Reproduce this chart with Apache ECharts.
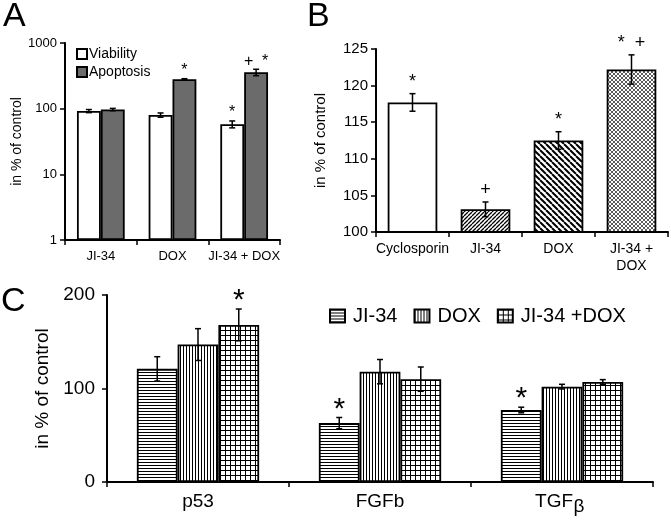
<!DOCTYPE html>
<html>
<head>
<meta charset="utf-8">
<script src="https://cdn.jsdelivr.net/npm/echarts@6/dist/echarts.min.js"></script>
<style>
    html, body {margin: 0; padding: 0; background: #fff;}
    #graph {width: 671px; height: 525px;}
</style>
</head>
<body>
<div id="graph"></div>
<script>
// A: viability / apoptosis (log scale)
var aCats = ['JI-34', 'DOX', 'JI-34 + DOX'];
var aViability = [92, 80, 58];
var aViabilityErr = [5, 6, 7];
var aApoptosis = [97, 280, 358];
var aApoptosisErr = [4, 6, 40];
var aViabilityMarks = ['', '', '*'];
var aApoptosisMarks = ['', '*', '+  *'];

// B
var bCats = ['Cyclosporin', 'JI-34', 'DOX', 'JI-34 +\nDOX'];
var bValues = [117.7, 103.1, 112.5, 122.2];
var bErr = [1.2, 1.0, 1.2, 2.0];
var bMarks = ['*', '+', '*', '*  +'];

// C
var cCats = ['p53', 'FGFb', 'TGFβ'];
var cJI34 = [121, 63, 77];
var cJI34Err = [13, 6, 3];
var cDOX = [147, 118, 102];
var cDOXErr = [17, 13, 2.5];
var cCombo = [168, 110, 107];
var cComboErr = [17, 13, 2.5];
var cJI34Marks = ['', '*', '*'];
var cDOXMarks = ['', '', ''];
var cComboMarks = ['*', '', ''];

var FONT = "'Liberation Sans', Arial, sans-serif";

// 填充图案
function makePattern(kind) {
    var s = {hor: 3, ver: 3, grid: 5, fwd: 4, back: 6, cross: 4}[kind];
    var c = document.createElement('canvas');
    c.width = s;
    c.height = s;
    var g = c.getContext('2d');
    g.fillStyle = '#fff';
    g.fillRect(0, 0, s, s);
    g.fillStyle = '#000';
    g.strokeStyle = '#000';
    if (kind === 'hor') g.fillRect(0, 0, s, 1);
    if (kind === 'ver') g.fillRect(0, 0, 1, s);
    if (kind === 'grid') {
        g.fillRect(0, 0, s, 1);
        g.fillRect(0, 0, 1, s);
    }
    if (kind === 'fwd' || kind === 'back' || kind === 'cross') {
        g.lineWidth = kind === 'back' ? 2 : (kind === 'cross' ? 0.8 : 1.3);
        if (kind === 'cross') g.strokeStyle = '#333';
        g.beginPath();
        for (var k = -1; k <= 1; k++) {
            if (kind !== 'back') {
                g.moveTo(k * s, s);
                g.lineTo(k * s + s, 0);
            }
            if (kind !== 'fwd') {
                g.moveTo(k * s, 0);
                g.lineTo(k * s + s, s);
            }
        }
        g.stroke();
    }
    return {image: c, repeat: 'repeat'};
}

// 误差线 + 显著性标记
function errorRender(marks, barIdx, nBars, barFrac, font, dy) {
    return function (params, api) {
        var i = api.value(0), v = api.value(1), e = api.value(2);
        var band = api.size([1, 0])[0];
        var bw = band * barFrac;
        var cx = api.coord([i, v])[0] + (barIdx - (nBars - 1) / 2) * bw;
        var top = api.coord([i, v + e])[1];
        var bot = api.coord([i, v - e])[1];
        var cap = 3;
        var ls = {stroke: '#000', lineWidth: 1.5};
        var children = [
            {type: 'line', shape: {x1: cx, y1: top, x2: cx, y2: bot}, style: ls},
            {type: 'line', shape: {x1: cx - cap, y1: top, x2: cx + cap, y2: top}, style: ls},
            {type: 'line', shape: {x1: cx - cap, y1: bot, x2: cx + cap, y2: bot}, style: ls}
        ];
        var m = marks[params.dataIndex];
        if (m) {
            children.push({
                type: 'text', x: cx, y: top - dy,
                style: {text: m, fill: '#000', font: font, align: 'center', verticalAlign: 'middle'}
            });
        }
        return {type: 'group', children: children};
    };
}

function errSeries(xi, values, errs, marks, barIdx, nBars, barFrac, font, dy) {
    return {
        type: 'custom',
        xAxisIndex: xi,
        yAxisIndex: xi,
        z: 5,
        silent: true,
        clip: false,
        renderItem: errorRender(marks, barIdx, nBars, barFrac, font, dy),
        data: values.map(function (v, i) {
            return [i, v, errs[i]];
        })
    };
}

var axisLine = {show: true, lineStyle: {color: '#000', width: 2}};
var axisTick = {show: true, length: 5, lineStyle: {color: '#000', width: 1.5}};
var barBorder = {borderColor: '#000', borderWidth: 1.8};

var option = {
    animation: false,
    textStyle: {fontFamily: FONT, color: '#000'},
    graphic: [
        {type: 'text', left: 3, top: 0, style: {text: 'A', font: '34px ' + FONT, fill: '#000'}},
        {type: 'text', left: 307, top: 0, style: {text: 'B', font: '34px ' + FONT, fill: '#000'}},
        {type: 'text', left: 1, top: 285, style: {text: 'C', font: '34px ' + FONT, fill: '#000'}}
    ],
    legend: [{
        data: ['Viability', 'Apoptosis'],
        orient: 'vertical',
        left: 71, top: 42, icon: 'rect',
        itemWidth: 10, itemHeight: 10, itemGap: 4,
        textStyle: {fontSize: 14, fontFamily: FONT, color: '#000', padding: [0, 0, 0, -3]}
    }, {
        data: ['JI-34', 'DOX', 'JI-34 +DOX'],
        orient: 'horizontal',
        left: 324, top: 301, icon: 'rect',
        itemWidth: 15, itemHeight: 13, itemGap: 16,
        textStyle: {fontSize: 20, fontFamily: FONT, color: '#000', padding: [0, 0, 0, 3]}
    }],
    grid: [
        {left: 65, top: 43, width: 215, height: 197},
        {left: 376, top: 49, width: 292, height: 183},
        {left: 107, top: 295, width: 546, height: 187}
    ],
    xAxis: [{
        gridIndex: 0, type: 'category', data: aCats,
        axisLine: axisLine, axisTick: axisTick,
        axisLabel: {interval: 0, fontSize: 13, color: '#000', margin: 10, fontFamily: FONT}
    }, {
        gridIndex: 1, type: 'category', data: bCats,
        axisLine: axisLine, axisTick: axisTick,
        axisLabel: {interval: 0, fontSize: 14, color: '#000', margin: 9, lineHeight: 17, fontFamily: FONT}
    }, {
        gridIndex: 2, type: 'category', data: cCats, position: 'bottom',
        axisLine: axisLine, axisTick: axisTick,
        axisLabel: {
            interval: 0, color: '#000', margin: 10, fontSize: 19, fontFamily: FONT,
            formatter: function (v) {
                // β 另起一轴画成下标，这里留空位
                return v.replace('β', '\u00a0\u00a0\u00a0');
            }
        }
    }, {
        gridIndex: 2, type: 'category', data: cCats, position: 'bottom', offset: 0,
        axisLine: {show: false}, axisTick: {show: false},
        axisLabel: {
            interval: 0, color: '#000', margin: 15, fontSize: 19, fontFamily: FONT,
            padding: [0, 0, 0, 34],
            formatter: function (v) {
                return v.indexOf('β') >= 0 ? 'β' : '';
            }
        }
    }],
    yAxis: [{
        gridIndex: 0, type: 'log', logBase: 10, min: 1, max: 1000,
        name: 'in % of control', nameLocation: 'middle', nameGap: 38,
        nameTextStyle: {fontSize: 14, color: '#000', fontFamily: FONT},
        axisLine: axisLine, axisTick: axisTick, splitLine: {show: false},
        axisLabel: {
            fontSize: 13, color: '#000', margin: 8, fontFamily: FONT,
            formatter: function (v) {
                return String(Math.round(v));
            }
        }
    }, {
        gridIndex: 1, type: 'value', min: 100, max: 125, interval: 5,
        name: 'in % of control', nameLocation: 'middle', nameGap: 48,
        nameTextStyle: {fontSize: 15, color: '#000', fontFamily: FONT},
        axisLine: axisLine, axisTick: axisTick, splitLine: {show: false},
        axisLabel: {fontSize: 15, color: '#000', margin: 8, fontFamily: FONT}
    }, {
        gridIndex: 2, type: 'value', min: 0, max: 200, interval: 100,
        name: 'in % of control', nameLocation: 'middle', nameGap: 52,
        nameTextStyle: {fontSize: 19, color: '#000', fontFamily: FONT},
        axisLine: axisLine, axisTick: axisTick,
        splitLine: {show: false},
        axisLabel: {fontSize: 19, color: '#000', margin: 12, fontFamily: FONT}
    }],
    series: [
        // A
        {
            name: 'Viability', type: 'bar', xAxisIndex: 0, yAxisIndex: 0,
            data: aViability, barWidth: '33.3%', barGap: '0%',
            itemStyle: Object.assign({color: '#fff'}, barBorder)
        },
        {
            name: 'Apoptosis', type: 'bar', xAxisIndex: 0, yAxisIndex: 0,
            data: aApoptosis, barWidth: '33.3%', barGap: '0%',
            itemStyle: Object.assign({color: '#6b6b6b'}, barBorder)
        },
        errSeries(0, aViability, aViabilityErr, aViabilityMarks, 0, 2, 1 / 3, '16px ' + FONT, 8),
        errSeries(0, aApoptosis, aApoptosisErr, aApoptosisMarks, 1, 2, 1 / 3, '16px ' + FONT, 8),
        // B
        {
            name: 'B', type: 'bar', xAxisIndex: 1, yAxisIndex: 1,
            barWidth: '68%',
            data: bValues.map(function (v, i) {
                var fills = ['#fff', makePattern('fwd'), makePattern('back'), makePattern('cross')];
                return {value: v, itemStyle: Object.assign({color: fills[i]}, barBorder)};
            })
        },
        errSeries(1, bValues, bErr, bMarks, 0, 1, 0.68, '18px ' + FONT, 12),
        // C
        {
            name: 'JI-34', type: 'bar', xAxisIndex: 2, yAxisIndex: 2,
            data: cJI34, barWidth: '22.4%', barGap: '0%',
            itemStyle: Object.assign({color: makePattern('hor')}, barBorder)
        },
        {
            name: 'DOX', type: 'bar', xAxisIndex: 2, yAxisIndex: 2,
            data: cDOX, barWidth: '22.4%', barGap: '0%',
            itemStyle: Object.assign({color: makePattern('ver')}, barBorder)
        },
        {
            name: 'JI-34 +DOX', type: 'bar', xAxisIndex: 2, yAxisIndex: 2,
            data: cCombo, barWidth: '22.4%', barGap: '0%',
            itemStyle: Object.assign({color: makePattern('grid')}, barBorder)
        },
        errSeries(2, cJI34, cJI34Err, cJI34Marks, 0, 3, 0.224, '30px ' + FONT, 8),
        errSeries(2, cDOX, cDOXErr, cDOXMarks, 1, 3, 0.224, '30px ' + FONT, 8),
        errSeries(2, cCombo, cComboErr, cComboMarks, 2, 3, 0.224, '30px ' + FONT, 8)
    ]
};

var chart = echarts.init(document.getElementById('graph'));
chart.setOption(option);
</script>
</body>
</html>
